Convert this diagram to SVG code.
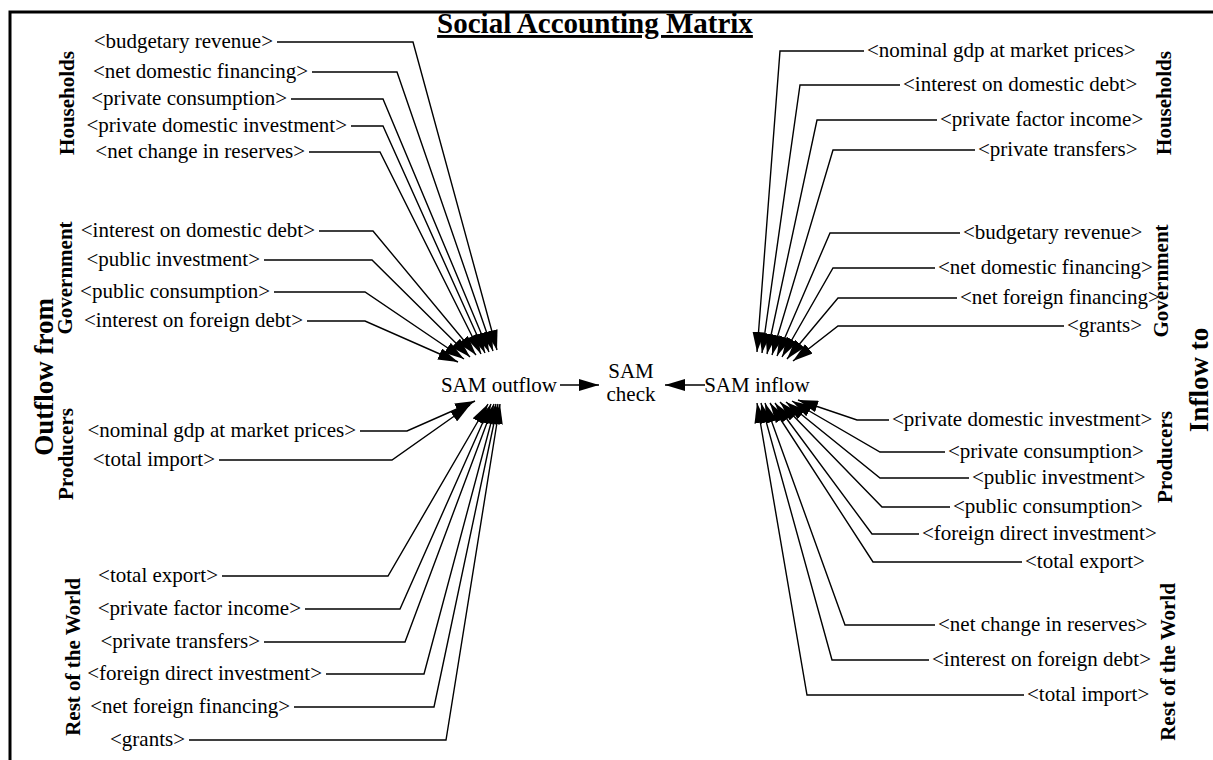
<svg xmlns="http://www.w3.org/2000/svg" width="1213" height="760" viewBox="0 0 1213 760">
<style>
text{font-family:"Liberation Serif","Times New Roman",serif;fill:#000}
.v{font-size:21px}
.l{text-anchor:end}
.r{text-anchor:start}
.n{font-size:21px;text-anchor:middle}
.g{font-size:21px;font-weight:bold;text-anchor:middle}
.gb{font-size:27px;font-weight:bold;text-anchor:middle}
.t{font-size:29px;font-weight:bold;text-anchor:middle;text-decoration:underline}
#connectors path{fill:none;stroke:#000;stroke-width:1.4;marker-end:url(#ah)}
</style>
<defs>
<marker id="ah" viewBox="0 0 20 12" refX="20" refY="6" markerWidth="20" markerHeight="12" markerUnits="userSpaceOnUse" orient="auto">
<path d="M0,0 L20,6 L0,12 z" fill="#000"/>
</marker>
</defs>
<rect width="1213" height="760" fill="#fff"/>
<path d="M10,760 V12 H1213" fill="none" stroke="#000" stroke-width="3"/>
<g id="title"><text class="t" x="595" y="33">Social Accounting Matrix</text></g>

<g id="sections">
<g id="sec-outflow"><text class="gb" transform="translate(53,377) rotate(-90)">Outflow from</text></g>
<g id="sec-l-households"><text class="g" transform="translate(74,103) rotate(-90)">Households</text></g>
<g id="sec-l-government"><text class="g" transform="translate(72,278) rotate(-90)">Government</text></g>
<g id="sec-l-producers"><text class="g" transform="translate(73,454) rotate(-90)">Producers</text></g>
<g id="sec-l-row"><text class="g" transform="translate(80,657) rotate(-90)">Rest of the World</text></g>
<g id="sec-inflow"><text class="gb" transform="translate(1208,380) rotate(-90)">Inflow to</text></g>
<g id="sec-r-households"><text class="g" transform="translate(1171,103) rotate(-90)">Households</text></g>
<g id="sec-r-government"><text class="g" transform="translate(1168,281) rotate(-90)">Government</text></g>
<g id="sec-r-producers"><text class="g" transform="translate(1172,457) rotate(-90)">Producers</text></g>
<g id="sec-r-row"><text class="g" transform="translate(1175,662) rotate(-90)">Rest of the World</text></g>
</g>

<g id="sam-outflow"><text class="n" x="499" y="392">SAM outflow</text></g>
<g id="sam-check"><text class="n" x="631" y="378">SAM</text><text class="n" x="631" y="401">check</text></g>
<g id="sam-inflow"><text class="n" x="757" y="392">SAM inflow</text></g>

<g id="out-budgetary-revenue"><text class="v l" x="273" y="48">&lt;budgetary revenue&gt;</text></g>
<g id="out-net-domestic-financing"><text class="v l" x="308" y="78">&lt;net domestic financing&gt;</text></g>
<g id="out-private-consumption"><text class="v l" x="287" y="105">&lt;private consumption&gt;</text></g>
<g id="out-private-domestic-investment"><text class="v l" x="347" y="132">&lt;private domestic investment&gt;</text></g>
<g id="out-net-change-in-reserves"><text class="v l" x="305" y="158">&lt;net change in reserves&gt;</text></g>
<g id="out-interest-on-domestic-debt"><text class="v l" x="315" y="237">&lt;interest on domestic debt&gt;</text></g>
<g id="out-public-investment"><text class="v l" x="260" y="266">&lt;public investment&gt;</text></g>
<g id="out-public-consumption"><text class="v l" x="270" y="298">&lt;public consumption&gt;</text></g>
<g id="out-interest-on-foreign-debt"><text class="v l" x="303" y="327">&lt;interest on foreign debt&gt;</text></g>
<g id="out-nominal-gdp"><text class="v l" x="356" y="437">&lt;nominal gdp at market prices&gt;</text></g>
<g id="out-total-import"><text class="v l" x="215" y="466">&lt;total import&gt;</text></g>
<g id="out-total-export"><text class="v l" x="218" y="582">&lt;total export&gt;</text></g>
<g id="out-private-factor-income"><text class="v l" x="301" y="615">&lt;private factor income&gt;</text></g>
<g id="out-private-transfers"><text class="v l" x="260" y="648">&lt;private transfers&gt;</text></g>
<g id="out-foreign-direct-investment"><text class="v l" x="322" y="680">&lt;foreign direct investment&gt;</text></g>
<g id="out-net-foreign-financing"><text class="v l" x="290" y="713">&lt;net foreign financing&gt;</text></g>
<g id="out-grants"><text class="v l" x="185" y="746">&lt;grants&gt;</text></g>

<g id="in-nominal-gdp"><text class="v r" x="867" y="57">&lt;nominal gdp at market prices&gt;</text></g>
<g id="in-interest-on-domestic-debt"><text class="v r" x="903" y="91">&lt;interest on domestic debt&gt;</text></g>
<g id="in-private-factor-income"><text class="v r" x="940" y="126">&lt;private factor income&gt;</text></g>
<g id="in-private-transfers"><text class="v r" x="978" y="156">&lt;private transfers&gt;</text></g>
<g id="in-budgetary-revenue"><text class="v r" x="963" y="239">&lt;budgetary revenue&gt;</text></g>
<g id="in-net-domestic-financing"><text class="v r" x="938" y="274">&lt;net domestic financing&gt;</text></g>
<g id="in-net-foreign-financing"><text class="v r" x="960" y="304">&lt;net foreign financing&gt;</text></g>
<g id="in-grants"><text class="v r" x="1067" y="332">&lt;grants&gt;</text></g>
<g id="in-private-domestic-investment"><text class="v r" x="892" y="426">&lt;private domestic investment&gt;</text></g>
<g id="in-private-consumption"><text class="v r" x="948" y="458">&lt;private consumption&gt;</text></g>
<g id="in-public-investment"><text class="v r" x="972" y="484">&lt;public investment&gt;</text></g>
<g id="in-public-consumption"><text class="v r" x="953" y="513">&lt;public consumption&gt;</text></g>
<g id="in-foreign-direct-investment"><text class="v r" x="922" y="540">&lt;foreign direct investment&gt;</text></g>
<g id="in-total-export"><text class="v r" x="1025" y="568">&lt;total export&gt;</text></g>
<g id="in-net-change-in-reserves"><text class="v r" x="938" y="631">&lt;net change in reserves&gt;</text></g>
<g id="in-interest-on-foreign-debt"><text class="v r" x="932" y="666">&lt;interest on foreign debt&gt;</text></g>
<g id="in-total-import"><text class="v r" x="1027" y="701">&lt;total import&gt;</text></g>

<g id="connectors">
<path d="M277,42 H413 L497,350"/>
<path d="M312,72 H397 L493,351"/>
<path d="M291,99 H383 L489,352"/>
<path d="M351,126 H383 L485,353"/>
<path d="M309,152 H380 L481,354"/>
<path d="M319,231 H373 L476,355"/>
<path d="M264,260 H372 L470,357"/>
<path d="M274,292 H365 L464,359"/>
<path d="M307,321 H365 L458,362"/>
<path d="M360,431 H407 L475,401"/>
<path d="M219,460 H392 L470,405"/>
<path d="M222,576 H388 L488,404"/>
<path d="M305,609 H400 L491,404"/>
<path d="M264,642 H405 L494,404"/>
<path d="M326,674 H424 L496,404"/>
<path d="M294,707 H434 L498,404"/>
<path d="M189,740 H446 L500,404"/>

<path d="M864,51 H780 L757,352"/>
<path d="M900,85 H800 L762,353"/>
<path d="M937,120 H817 L767,354"/>
<path d="M975,150 H833 L772,355"/>
<path d="M960,233 H830 L777,356"/>
<path d="M935,268 H833 L782,357"/>
<path d="M957,298 H838 L787,359"/>
<path d="M1064,326 H838 L793,361"/>
<path d="M889,420 H857 L798,400"/>
<path d="M945,452 H880 L792,401"/>
<path d="M969,478 H880 L786,402"/>
<path d="M950,507 H882 L780,402"/>
<path d="M919,534 H872 L775,403"/>
<path d="M1022,562 H873 L770,403"/>
<path d="M935,625 H845 L765,403"/>
<path d="M929,660 H832 L761,403"/>
<path d="M1024,695 H807 L757,403"/>

<path d="M560,385 H599"/>
<path d="M705,385 H665"/>
</g>
</svg>
